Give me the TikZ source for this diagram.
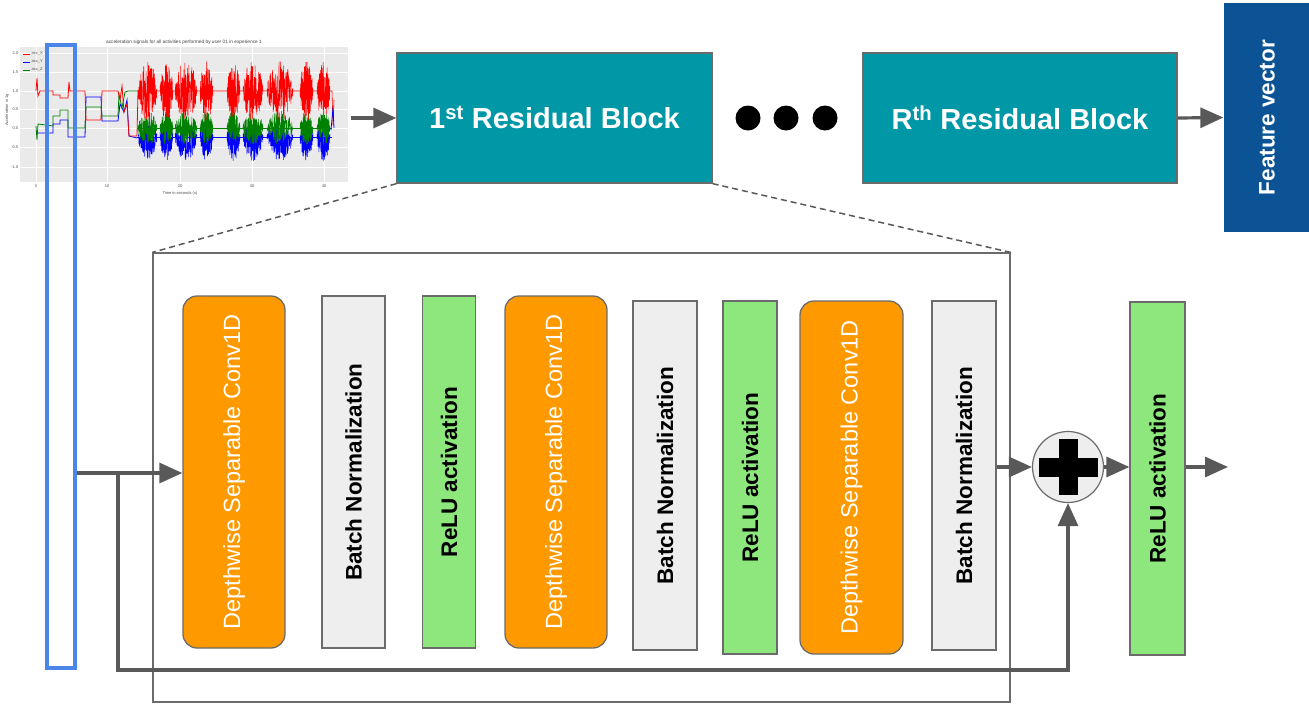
\documentclass[tikz,border=0pt]{standalone}
\usepackage{fontspec}
\setmainfont{Liberation Sans}
\usetikzlibrary{arrows.meta}

\definecolor{edgegray}{HTML}{6B6B6B}
\definecolor{arrowgray}{HTML}{595959}
\definecolor{blockteal}{HTML}{0097A7}
\definecolor{featblue}{HTML}{0B5394}
\definecolor{convorange}{HTML}{FF9900}
\definecolor{bngray}{HTML}{EEEEEE}
\definecolor{relugreen}{HTML}{8DE77C}
\definecolor{winblue}{HTML}{4A86E8}
\definecolor{panelgray}{HTML}{EAEAEA}
\definecolor{sigred}{HTML}{FF0000}
\definecolor{sigblue}{HTML}{0000FF}
\definecolor{siggreen}{HTML}{008000}

\begin{document}
\begin{tikzpicture}[x=1pt,y=-1pt,
  box/.style={draw=edgegray, line width=1.3pt, inner sep=0pt},
  convbox/.style={box, fill=convorange, rounded corners=14pt, text=white,
    font=\fontsize{23.5}{28}\selectfont},
  bnbox/.style={box, fill=bngray, text=black,
    font=\bfseries\fontsize{22.5}{27}\selectfont},
  relubox/.style={box, fill=relugreen, text=black,
    font=\bfseries\fontsize{22.5}{27}\selectfont},
  blockbox/.style={box, fill=blockteal, text=white,
    font=\bfseries\fontsize{29}{34}\selectfont},
  dot/.style={circle, fill=black, minimum size=25pt, inner sep=0pt},
  arr/.style={draw=arrowgray, line width=3.2pt, -{Triangle[length=23pt,width=20pt]}},
  wire/.style={draw=arrowgray, line width=3.2pt},
  zoomline/.style={draw=arrowgray, line width=1.5pt, dash pattern=on 6pt off 4pt},
  ticktext/.style={font=\fontsize{4}{5}\selectfont, text=black!70, inner sep=0.5pt},
]
\useasboundingbox (0,0) rectangle (1309,705);

% ---------- accelerometer plot ----------
\node[minimum width=338pt, minimum height=160pt, inner sep=0pt] (plot) at (179,116) {};
\fill[panelgray] (20,47) rectangle (348,182);
\foreach \gx in {36,107,180,252,324}
  \draw[white, line width=0.6pt] (\gx,47) -- (\gx,182);
\foreach \gy in {53,72,91,109,128,147,167}
  \draw[white, line width=0.6pt] (20,\gy) -- (348,\gy);
\foreach \gx/\lab in {36/0,107/10,180/20,252/30,324/40}
  \node[ticktext] at (\gx,186) {\lab};
\foreach \gy/\lab in {53/2.0,72/1.5,91/1.0,109/0.5,128/0.0,147/-0.5,167/-1.0}
  \node[ticktext, anchor=east] at (19,\gy) {\lab};
\node[ticktext] at (180,193) {Time in seconds (s)};
\node[ticktext, rotate=90] at (7,110) {Acceleration in 1g};
\node[font=\fontsize{4.8}{6}\selectfont, text=black!75, inner sep=0pt] at (184,42)
  {acceleration signals for all activities performed by user 01 in experience 1};

\pgfmathsetseed{11}
% static part of the recording
\draw[sigblue, line width=0.8pt] (36,133) -- (53,133) -- (53,124) -- (60,124) -- (60,120) -- (68,120)
  -- (68,137) -- (85,137) -- (86,97) -- (101,97) -- (102,121) -- (118,121) -- (120,104)
  -- (124,112) -- (127,100) -- (129,136) -- (137,138);
\draw[siggreen, line width=0.8pt] (36,126) -- (37,140) -- (38,124) -- (53,126) -- (53,116) -- (60,116)
  -- (60,110) -- (68,110) -- (68,128) -- (85,128) -- (86,107) -- (101,107) -- (102,116)
  -- (118,116) -- (119,94) -- (122,108) -- (125,92) -- (128,91) -- (137,91);
\draw[sigred, line width=0.8pt] (36,91) -- (37,78) -- (38,96) -- (40,91) -- (53,91) -- (53,95)
  -- (60,95) -- (60,98) -- (68,98) -- (69,82) -- (70,91) -- (85,91) -- (86,120) -- (101,120)
  -- (102,91) -- (118,91) -- (120,100) -- (122,86) -- (124,112) -- (127,104) -- (129,136)
  -- (137,136) -- (138,91);
% activity part: baselines and bursts
\draw[sigblue, line width=0.6pt] (137,137) -- (332,137);
\foreach \a/\b in {138/157,160/173,175/197,200/213,227/240,243/263,267/293,300/313,317/330}
  \draw[sigblue, line width=0.5pt] plot[domain=\a:\b, samples=120, variable=\x]
    (\x, {135 + sqrt(abs(sin(180*(\x-\a)/(\b-\a))))*(8 + 18*rand)});
\draw[siggreen, line width=0.6pt] (137,128) -- (332,128);
\foreach \a/\b in {138/157,160/173,175/197,200/213,227/240,243/263,267/293,300/313,317/330}
  \draw[siggreen, line width=0.5pt] plot[domain=\a:\b, samples=120, variable=\x]
    (\x, {128 + sqrt(abs(sin(180*(\x-\a)/(\b-\a))))*17*rand});
\draw[sigred, line width=0.6pt] (137,91) -- (332,91) -- (333,125) -- (334,100);
\foreach \a/\b in {138/157,160/173,175/197,200/213,227/240,243/263,267/293,300/313,317/330}
  \draw[sigred, line width=0.5pt] plot[domain=\a:\b, samples=120, variable=\x]
    (\x, {91 + sqrt(abs(sin(180*(\x-\a)/(\b-\a))))*30*rand});
\draw[sigblue, line width=0.8pt] (331,130) -- (333,108) -- (334,128);
% legend
\draw[sigred, line width=0.8pt] (23,54) -- (30,54);
\draw[sigblue, line width=0.8pt] (23,62) -- (30,62);
\draw[siggreen, line width=0.8pt] (23,70) -- (30,70);
\node[ticktext, anchor=west] at (31,54) {acc\_X};
\node[ticktext, anchor=west] at (31,62) {acc\_Y};
\node[ticktext, anchor=west] at (31,70) {acc\_Z};

% sliding window over the signal
\node[draw=winblue, line width=3.5pt, minimum width=28pt, minimum height=623pt, inner sep=0pt]
  (win) at (61,356.5) {};

% ---------- top row ----------
\node[blockbox, minimum width=315pt, minimum height=130pt] (b1) at (554.5,118)
  {1\textsuperscript{st} Residual Block};
\node[dot] (d1) at (748,118) {};
\node[dot] (d2) at (786,118) {};
\node[dot] (d3) at (825,118) {};
\node[blockbox, minimum width=314pt, minimum height=130pt] (bR) at (1020,118)
  {R\textsuperscript{th} Residual Block};
\node[box, draw=none, fill=featblue, text=white, minimum width=86pt, minimum height=229pt,
  font=\bfseries\fontsize{22.5}{27}\selectfont] (feat) at (1267,117.5)
  {\rotatebox{90}{Feature vector}};

\draw[arr] (plot.east |- b1) ++(3,0) -- (b1.west);
\draw[arr] (bR.east) -- (feat.west);

% ---------- expanded residual block ----------
\node[draw=edgegray, line width=1.2pt, minimum width=857pt, minimum height=449pt, inner sep=0pt]
  (big) at (581.5,477.5) {};
\draw[zoomline] (b1.south west) -- (big.north west);
\draw[zoomline] (b1.south east) -- (big.north east);

\node[convbox, minimum width=102pt, minimum height=352pt] (conv1) at (234,472)
  {\rotatebox{90}{Depthwise Separable Conv1D}};
\node[bnbox, minimum width=63pt, minimum height=352pt] (bn1) at (353.5,472)
  {\rotatebox{90}{Batch Normalization}};
\node[relubox, minimum width=53pt, minimum height=352pt] (relu1) at (449,472)
  {\rotatebox{90}{ReLU activation}};
\node[convbox, minimum width=102pt, minimum height=352pt] (conv2) at (556,472)
  {\rotatebox{90}{Depthwise Separable Conv1D}};
\node[bnbox, minimum width=64pt, minimum height=349pt] (bn2) at (665,475.5)
  {\rotatebox{90}{Batch Normalization}};
\node[relubox, minimum width=54pt, minimum height=353pt] (relu2) at (750,477.5)
  {\rotatebox{90}{ReLU activation}};
\node[convbox, minimum width=103pt, minimum height=353pt] (conv3) at (851.5,477.5)
  {\rotatebox{90}{Depthwise Separable Conv1D}};
\node[bnbox, minimum width=64pt, minimum height=349pt] (bn3) at (964,475.5)
  {\rotatebox{90}{Batch Normalization}};

% addition of the shortcut
\node[circle, draw=edgegray, line width=1.2pt, fill=bngray, minimum size=71pt, inner sep=0pt]
  (plus) at (1068,467) {};
\fill[black] (plus.center) +(-29.5,-9.5) rectangle +(29.5,9.5);
\fill[black] (plus.center) +(-9.5,-28) rectangle +(9.5,28);

\node[relubox, minimum width=55pt, minimum height=353pt] (relu3) at (1157.5,478.5)
  {\rotatebox{90}{ReLU activation}};

% input path and shortcut
\coordinate (split) at (118,473);
\coordinate (skipL) at (118,670);
\coordinate (out) at (1228,467);
\draw[wire] (win.east |- split) -- (split);
\draw[arr] (split) -- (conv1.west |- split);
\draw[arr] (split) -- (skipL) -| (plus.south);
\draw[arr] (bn3.east |- plus) -- (plus.west);
\draw[arr] (plus.east) -- (relu3.west |- plus);
\draw[arr] (relu3.east |- plus) -- (out);
\end{tikzpicture}
\end{document}
